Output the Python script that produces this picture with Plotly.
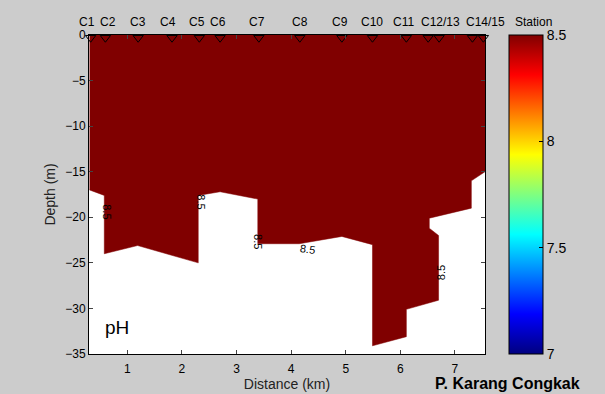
import plotly.graph_objects as go

# Bottom profile of the pH section (distance km, depth m)
bottom_km = [0.31, 0.58, 0.58, 1.19, 2.30, 2.30, 2.70, 3.39, 3.39, 4.15, 4.93, 5.49,
             5.49, 6.11, 6.11, 6.70, 6.70, 6.53, 6.53, 7.30, 7.30, 7.55]
bottom_depth = [-17.0, -17.6, -24.0, -23.1, -25.0, -17.6, -17.2, -18.0, -22.9, -22.9, -22.1, -23.0,
                -34.1, -33.1, -30.1, -29.1, -22.0, -21.2, -20.1, -19.0, -16.0, -15.0]
ph_value = 8.5

station_km = [0.33, 0.60, 1.20, 1.82, 2.32, 2.70, 3.41, 4.16, 4.93, 5.49, 6.11, 6.51, 6.71, 7.32, 7.52]
station_label_text = ["C1", "C2", "C3", "C4", "C5", "C6", "C7", "C8", "C9", "C10", "C11", "C12/13", "C14/15"]
station_label_km = [0.27, 0.64, 1.20, 1.75, 2.28, 2.66, 3.38, 4.16, 4.90, 5.49, 6.06, 6.73, 7.55]

contour_label_km = [0.64, 2.36, 3.39, 4.30, 6.75]
contour_label_depth = [-19.4, -18.3, -22.7, -23.5, -26.1]
contour_label_angle = [90, 90, 90, 8, -90]

cbar_ticks = [7, 7.5, 8, 8.5]

X_RANGE = [0.3, 7.55]

jet = [[0, "rgb(0,0,128)"], [0.125, "rgb(0,0,255)"], [0.375, "rgb(0,255,255)"],
       [0.625, "rgb(255,255,0)"], [0.875, "rgb(255,0,0)"], [1, "rgb(128,0,0)"]]

FONT = "Liberation Sans, Arial, sans-serif"

fig = go.Figure()

poly_x = bottom_km + [bottom_km[-1], bottom_km[0]]
poly_y = bottom_depth + [0, 0]
fig.add_trace(go.Scatter(x=poly_x, y=poly_y, fill="toself", mode="lines",
                         fillcolor="rgb(128,0,0)", line=dict(color="rgb(128,0,0)", width=0.5),
                         hoverinfo="skip", showlegend=False))

# colorbar carrier
fig.add_trace(go.Scatter(x=[None, None], y=[None, None], mode="markers",
                         marker=dict(color=[7, ph_value], cmin=7, cmax=8.5, colorscale=jet,
                                     showscale=True,
                                     colorbar=dict(x=1.0606, xanchor="left", xpad=0,
                                                   y=1, yanchor="top", ypad=0, len=1,
                                                   thickness=34, outlinecolor="black", outlinewidth=1,
                                                   tickvals=cbar_ticks, ticktext=["7", "7.5", "8", "8.5"],
                                                   ticks="inside", ticklen=4, tickcolor="black",
                                                   tickfont=dict(family=FONT, size=14, color="black"))),
                         showlegend=False, hoverinfo="skip"))

fig.add_trace(go.Scatter(x=station_km, y=[-0.3] * len(station_km), mode="markers",
                         marker=dict(symbol="triangle-down-open", size=9, color="black",
                                     line=dict(width=1, color="black")),
                         cliponaxis=False, showlegend=False, hoverinfo="skip"))

for t, k in zip(station_label_text, station_label_km):
    xp = (k - X_RANGE[0]) / (X_RANGE[1] - X_RANGE[0])
    fig.add_annotation(x=xp, y=1.04, xref="paper", yref="paper", text=t, showarrow=False,
                       font=dict(family=FONT, size=12, color="black"),
                       xanchor="center", yanchor="middle")
fig.add_annotation(x=1.123, y=1.04, xref="paper", yref="paper", text="Station", showarrow=False,
                   font=dict(family=FONT, size=12, color="black"), xanchor="center", yanchor="middle")

for k, d, a in zip(contour_label_km, contour_label_depth, contour_label_angle):
    fig.add_annotation(x=k, y=d, text=str(ph_value), textangle=a, showarrow=False,
                       font=dict(family=FONT, size=11, color="black"))

fig.add_annotation(x=0.035, y=0.082, xref="paper", yref="paper", text="pH", showarrow=False,
                   xanchor="left", yanchor="middle", font=dict(family=FONT, size=19, color="black"))
fig.add_annotation(x=1.058, y=-0.092, xref="paper", yref="paper", text="<b>P. Karang Congkak</b>",
                   showarrow=False, xanchor="center", yanchor="middle",
                   font=dict(family=FONT, size=16, color="black"))

fig.update_xaxes(range=X_RANGE, tickvals=[1, 2, 3, 4, 5, 6, 7], ticks="inside", ticklen=4,
                 showline=True, linecolor="black", linewidth=1, mirror="ticks", showgrid=False,
                 zeroline=False, tickfont=dict(family=FONT, size=12, color="black"),
                 ticklabelstandoff=4, automargin=False,
                 title=dict(text="Distance (km)", standoff=3,
                            font=dict(family=FONT, size=14, color="#222")))
fig.update_yaxes(range=[-35, 0], tickvals=[0, -5, -10, -15, -20, -25, -30, -35], ticks="inside",
                 ticklen=4, showline=True, linecolor="black", linewidth=1, mirror="ticks",
                 showgrid=False, zeroline=False, tickfont=dict(family=FONT, size=12, color="black"),
                 automargin=False,
                 title=dict(text="Depth (m)", standoff=6,
                            font=dict(family=FONT, size=14, color="#222")))

fig.update_layout(width=605, height=394, margin=dict(l=89, r=120, t=35, b=40, autoexpand=False),
                  paper_bgcolor="rgb(204,204,204)", plot_bgcolor="white", showlegend=False)

fig.write_html("out.html", config={"displayModeBar": False},
               post_script="document.body.style.margin='0px';")
